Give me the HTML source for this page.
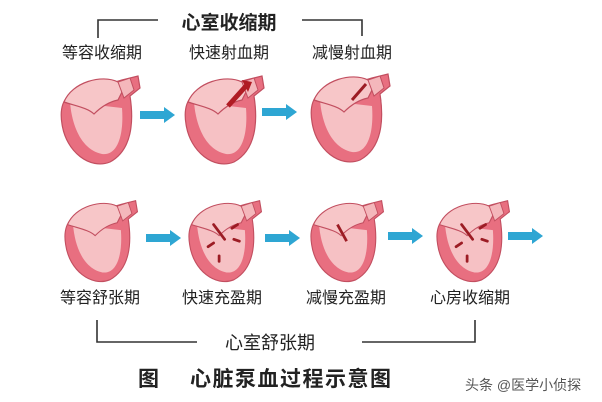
<!DOCTYPE html>
<html><head><meta charset="utf-8"><style>
body{margin:0;background:#fff;}
svg{display:block;}
text{font-family:"Liberation Sans","Noto Sans CJK SC",sans-serif;fill:#222;}
</style></head><body>
<svg width="602" height="402" viewBox="0 0 602 402" xmlns="http://www.w3.org/2000/svg">
<defs>
<g id="heart">
  <path d="M64,8 L80,4 L82,16 L72,24 C76,50 74,78 52,90 C32,98 8,80 4,52 C2,40 4,30 10,24 Z" fill="#e86f80" stroke="#c24f60" stroke-width="1.2"/>
  <path d="M12,30 C14,55 24,78 44,82 C60,84 66,62 64,36 Z" fill="#f6c1c4"/>
  <path d="M6,30 C14,10 44,2 60,10 L66,16 L60,28 C50,30 42,36 36,42 C30,36 18,34 6,30 Z" fill="#f7c6c8" stroke="#c24f60" stroke-width="1.2"/>
  <path d="M60,10 L72,6 L76,18 L66,26 Z" fill="#f4b7bb" stroke="#c24f60" stroke-width="1"/>
</g>
<g id="arrow"><path d="M0,-4 L24,-4 L24,-8 L35,0 L24,8 L24,4 L0,4 Z" fill="#2ea6d3"/></g>
<g id="flow" stroke="#9c1c24" stroke-width="3" stroke-linecap="round">
  <line x1="30" y1="30" x2="42" y2="46"/><line x1="50" y1="34" x2="56" y2="30"/><line x1="52" y1="46" x2="58" y2="48"/><line x1="24" y1="54" x2="30" y2="50"/><line x1="36" y1="64" x2="36" y2="70"/>
</g>
</defs>
<!-- top bracket -->
<path d="M98,38 L98,20 L158,20 M302,20 L362,20 L362,36" fill="none" stroke="#333" stroke-width="1.6"/>
<text x="229" y="29" font-size="19" text-anchor="middle" font-weight="bold">心室收缩期</text>
<text x="102" y="58" font-size="16" text-anchor="middle">等容收缩期</text>
<text x="229" y="58" font-size="16" text-anchor="middle">快速射血期</text>
<text x="352" y="58" font-size="16" text-anchor="middle">减慢射血期</text>
<!-- row 1 -->
<use href="#heart" x="58" y="72"/>
<use href="#heart" x="182" y="72"/>
<line x1="228" y1="106" x2="246" y2="86" stroke="#b01c24" stroke-width="5"/>
<path d="M242,80 L252,82 L248,92 Z" fill="#b01c24"/>
<use href="#heart" x="308" y="70"/>
<line x1="352" y1="100" x2="366" y2="84" stroke="#9c1c24" stroke-width="3"/>
<use href="#arrow" x="140" y="115"/>
<use href="#arrow" x="262" y="112"/>
<!-- row 2 -->
<g transform="translate(62,197) scale(0.92)"><use href="#heart"/></g>
<g transform="translate(186,197) scale(0.92)"><use href="#heart"/><use href="#flow"/></g>
<g transform="translate(308,197) scale(0.92)"><use href="#heart"/><line x1="32" y1="30" x2="42" y2="48" stroke="#9c1c24" stroke-width="3"/></g>
<g transform="translate(434,197) scale(0.92)"><use href="#heart"/><use href="#flow"/></g>
<use href="#arrow" x="146" y="238"/>
<use href="#arrow" x="265" y="238"/>
<use href="#arrow" x="388" y="236"/>
<use href="#arrow" x="508" y="236"/>
<text x="100" y="303" font-size="16" text-anchor="middle">等容舒张期</text>
<text x="222" y="303" font-size="16" text-anchor="middle">快速充盈期</text>
<text x="346" y="303" font-size="16" text-anchor="middle">减慢充盈期</text>
<text x="470" y="303" font-size="16" text-anchor="middle">心房收缩期</text>
<!-- bottom bracket -->
<path d="M97,320 L97,342 L197,342 M362,342 L475,342 L475,320" fill="none" stroke="#333" stroke-width="1.6"/>
<text x="270" y="349" font-size="18" text-anchor="middle">心室舒张期</text>
<text x="138" y="386" font-size="21" font-weight="bold">图</text>
<text x="190" y="386" font-size="21" font-weight="bold" letter-spacing="1.5">心脏泵血过程示意图</text>
<text x="465" y="390" font-size="14" style="fill:#555">头条 @医学小侦探</text>
</svg>
</body></html>
